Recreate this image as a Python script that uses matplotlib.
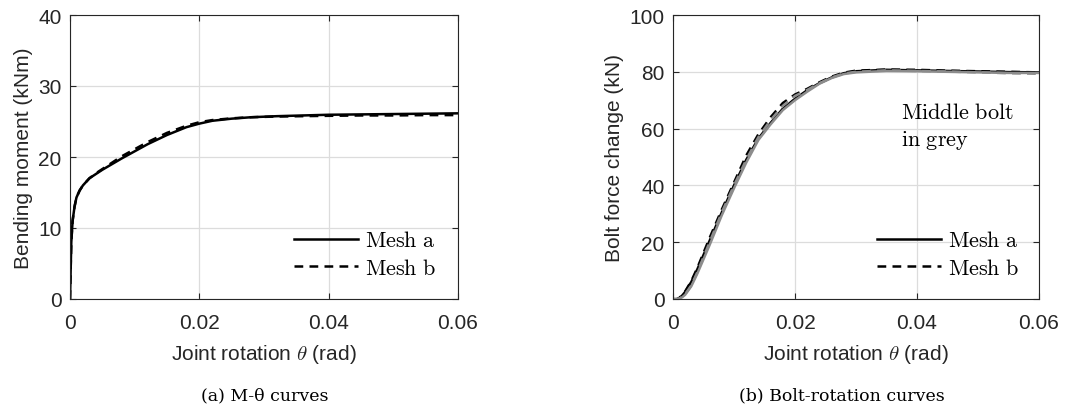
import matplotlib.pyplot as plt
import numpy as np

plt.rcParams['font.family'] = ['Liberation Sans', 'DejaVu Sans']
plt.rcParams['mathtext.fontset'] = 'cm'

# (a) moment-rotation
theta_a = [0, 0.0001, 0.0002, 0.0004, 0.0007, 0.001, 0.0015, 0.002, 0.003, 0.004, 0.005,
           0.0065, 0.008, 0.01, 0.012, 0.015, 0.018, 0.02, 0.022, 0.025, 0.028, 0.032,
           0.036, 0.04, 0.045, 0.05, 0.055, 0.06]
m_mesh_a = [0, 4.0, 8.0, 11.0, 13.0, 14.3, 15.3, 16.0, 17.0, 17.6, 18.2,
            19.0, 19.8, 20.8, 21.8, 23.1, 24.2, 24.7, 25.1, 25.4, 25.6, 25.75,
            25.85, 25.95, 26.0, 26.05, 26.1, 26.15]
m_mesh_b = [0, 4.0, 8.0, 11.0, 13.0, 14.3, 15.3, 16.0, 17.0, 17.7, 18.3,
            19.2, 20.1, 21.1, 22.1, 23.4, 24.4, 24.9, 25.2, 25.45, 25.6, 25.7,
            25.75, 25.8, 25.85, 25.85, 25.9, 25.9]

# (b) bolt force change - rotation
theta_b = [0, 0.0005, 0.001, 0.0015, 0.002, 0.003, 0.004, 0.006, 0.008, 0.01, 0.012,
           0.014, 0.016, 0.018, 0.02, 0.022, 0.024, 0.026, 0.028, 0.03, 0.035, 0.04,
           0.045, 0.05, 0.055, 0.06]
f_mesh_a = [0, -0.2, 0.3, 1.2, 2.5, 6.0, 10.5, 20.5, 30.5, 40.0, 49.0,
            56.5, 62.0, 67.0, 70.5, 73.5, 76.0, 78.0, 79.5, 80.2, 80.7, 80.5,
            80.3, 80.1, 79.9, 79.8]
f_mesh_b = [0, -0.2, 0.3, 1.3, 2.7, 6.3, 11.0, 21.5, 31.5, 41.0, 50.5,
            58.0, 64.0, 69.0, 72.0, 74.0, 76.3, 78.3, 79.7, 80.4, 80.8, 80.7,
            80.4, 80.2, 80.0, 79.8]
f_mid_a = [0, 0, 0.1, 0.6, 1.5, 4.5, 9.0, 19.0, 29.5, 39.0, 48.0,
           56.0, 61.5, 66.5, 70.0, 73.0, 75.8, 77.8, 79.2, 79.8, 80.3, 80.2,
           80.0, 79.8, 79.6, 79.6]
f_mid_b = [0, 0, 0.1, 0.7, 1.7, 4.8, 9.5, 20.0, 30.5, 40.0, 49.0,
           57.0, 63.0, 68.0, 71.5, 73.6, 76.0, 78.0, 79.4, 80.0, 80.5, 80.3,
           80.1, 79.8, 79.5, 79.3]

fig = plt.figure(figsize=(10.75, 4.10), dpi=100)
ax1 = fig.add_axes([70 / 1075, 1 - 300 / 410, 388 / 1075, 284 / 410])
ax2 = fig.add_axes([673 / 1075, 1 - 300 / 410, 366 / 1075, 284 / 410])

for ax in (ax1, ax2):
    ax.set_xlim(0, 0.06)
    ax.set_xticks([0, 0.02, 0.04, 0.06])
    ax.set_xticklabels(['0', '0.02', '0.04', '0.06'])
    ax.grid(True, color='#dcdcdc', linewidth=0.9)
    ax.set_axisbelow(True)
    ax.tick_params(direction='in', length=4, labelsize=15, colors='#262626',
                   top=True, right=True)
    ax.tick_params(axis='x', pad=10)
    ax.tick_params(axis='y', pad=6)
    for s in ax.spines.values():
        s.set_color('#262626')
        s.set_linewidth(0.8)
    ax.set_xlabel(r'Joint rotation $\theta$ (rad)', fontsize=15, color='#262626',
                  labelpad=7)

ax1.plot(theta_a, m_mesh_a, color='black', lw=1.8, label=r'$\mathrm{Mesh\ a}$')
ax1.plot(theta_a, m_mesh_b, color='black', lw=1.8, ls=(0, (3.5, 2.5)), label=r'$\mathrm{Mesh\ b}$')
ax1.set_ylim(0, 40)
ax1.set_yticks([0, 10, 20, 30, 40])
ax1.set_ylabel('Bending moment (kNm)', fontsize=15, color='#262626')
ax1.legend(loc='lower right', frameon=False, fontsize=16, handlelength=2.9,
           bbox_to_anchor=(0.995, 0.0), handletextpad=0.3, labelspacing=0.3)

ax2.plot(theta_b, f_mesh_a, color='black', lw=1.8, label=r'$\mathrm{Mesh\ a}$')
ax2.plot(theta_b, f_mesh_b, color='black', lw=1.8, ls=(0, (3.5, 2.5)), label=r'$\mathrm{Mesh\ b}$')
ax2.plot(theta_b, f_mid_a, color='#8c8c8c', lw=1.8)
ax2.plot(theta_b, f_mid_b, color='#8c8c8c', lw=1.8, ls=(0, (3.5, 2.5)))
ax2.set_ylim(0, 100)
ax2.set_yticks([0, 20, 40, 60, 80, 100])
ax2.set_ylabel('Bolt force change (kN)', fontsize=15, color='#262626')
ax2.legend(loc='lower right', frameon=False, fontsize=16, handlelength=2.9,
           bbox_to_anchor=(1.0, 0.0), handletextpad=0.3, labelspacing=0.3)
ax2.text(0.623, 0.52, r'$\mathrm{Middle\ bolt}$' + '\n' + r'$\mathrm{in\ grey}$',
         transform=ax2.transAxes, fontsize=16, va='bottom', linespacing=1.3)

fig.text(265 / 1075, 1 - 396 / 410, '(a) M-θ curves', ha='center', va='center',
         family='DejaVu Serif', fontsize=12.5)
fig.text(842 / 1075, 1 - 396 / 410, '(b) Bolt-rotation curves', ha='center', va='center',
         family='DejaVu Serif', fontsize=12.5)

fig.savefig('out.png', dpi=100)
